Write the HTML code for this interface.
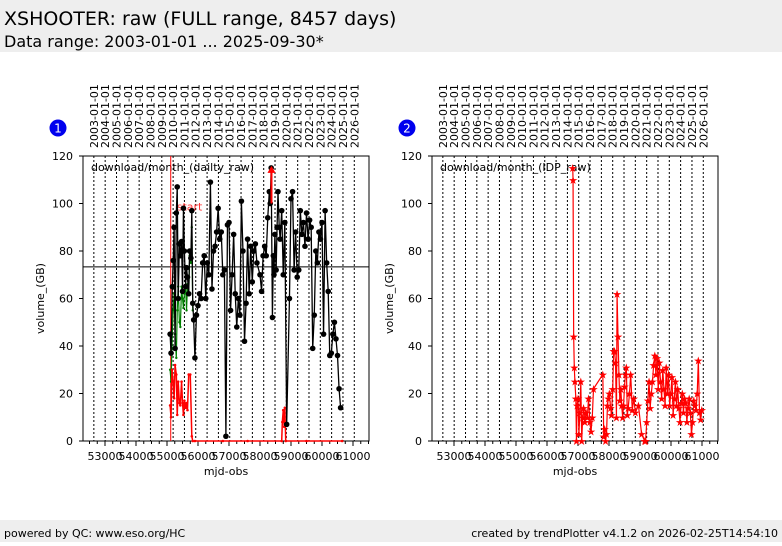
<!DOCTYPE html>
<html><head><meta charset="utf-8"><style>
body{margin:0;width:782px;height:542px;background:#fff;font-family:"DejaVu Sans","Liberation Sans",sans-serif;overflow:hidden}
</style></head><body>
<svg id="svg" width="782" height="542" xmlns="http://www.w3.org/2000/svg" font-family="DejaVu Sans, Liberation Sans, sans-serif">
<rect x="0" y="0" width="782" height="52" fill="#eeeeee"/>
<text x="4" y="25" font-size="19" fill="#000">XSHOOTER: raw (FULL range, 8457 days)</text>
<text x="4" y="47" font-size="16" fill="#000">Data range: 2003-01-01 ... 2025-09-30*</text>
<rect x="0" y="520" width="782" height="22" fill="#eeeeee"/>
<text x="4" y="537" font-size="11">powered by QC: www.eso.org/HC</text>
<text x="778" y="537" font-size="11" text-anchor="end">created by trendPlotter v4.1.2 on 2026-02-25T14:54:10</text>
<g id="p1"></g>
<g id="p2"></g>
</svg>
<script>
const yTicks=[0,20,40,60,80,100,120];
const xTicks=[53000,54000,55000,56000,57000,58000,59000,60000,61000];
const yearLabels=["2003","2004","2005","2006","2007","2008","2009","2010","2011","2012","2013","2014","2015","2016","2017","2018","2019","2020","2021","2022","2023","2024","2025","2026"];
const yearMjd=[52640,53005,53371,53736,54101,54466,54832,55197,55562,55927,56293,56658,57023,57388,57754,58119,58484,58849,59215,59580,59945,60310,60676,61041];
const refLineValue=73.3;
const startMjd=55120;
const blackMjd=[55100,55130,55170,55200,55230,55260,55300,55330,55360,55400,55430,55470,55500,55530,55560,55600,55630,55660,55700,55730,55770,55800,55830,55860,55900,55950,56000,56050,56100,56150,56200,56250,56300,56350,56400,56450,56500,56550,56600,56650,56700,56750,56800,56850,56900,56950,57000,57050,57100,57150,57200,57250,57300,57350,57400,57450,57500,57550,57600,57650,57700,57750,57800,57850,57900,58000,58050,58100,58150,58200,58250,58300,58330,58360,58400,58430,58450,58480,58520,58550,58580,58620,58650,58700,58750,58800,58860,58950,59000,59050,59100,59150,59200,59250,59300,59350,59400,59450,59500,59550,59600,59650,59700,59750,59800,59850,59900,59950,60000,60050,60100,60150,60200,60250,60300,60350,60400,60450,60500,60550,60600];
const blackVal=[45,37,65,76,90,39,96,107,60,83,78,84,63,98,80,65,73,69,62,80,77,97,58,51,35,53,57,62,60,75,78,60,75,70,109,64,80,82,88,98,85,88,70,72,2,91,92,55,70,87,62,48,60,53,101,80,42,58,85,62,82,67,80,83,75,70,63,78,82,78,94,105,100,115,52,78,70,87,72,90,105,90,85,97,70,92,7,60,102,105,72,88,69,72,97,87,92,82,96,85,93,90,39,53,80,75,88,85,92,45,97,75,63,36,37,45,50,43,36,22,14];
const greenMjd=[55100,55130,55170,55200,55230,55260,55300,55330,55360,55400,55430,55470,55500,55530,55560,55600,55630,55660,55700,55730,55770,55800,55830];
const greenVal=[30,25,45,55,62,45,35,55,65,50,48,65,60,56,62,65,55,66,62,78,75,90,55];
const redMjd=[55100,55130,55160,55200,55230,55260,55300,55330,55360,55400,55430,55470,55500,55530,55560,55600,55630,55660,55700,55750,55800,55830,55900,56800,57600,58700,58720,58750,58780,58800,58830,59500,60650];
const redVal=[15,10,30,25,18,32,28,11,25,16,15,25,16,11,17,14,16,13,28,28,2,0,0,0,0,0,8,13,6,14,0,0,0];
const arrowMjd=58370, arrowFrom=100, arrowTo=115;
const idpMjd=[56830,56840,56860,56880,56900,56930,56950,56970,57000,57030,57060,57090,57120,57150,57180,57220,57260,57300,57340,57380,57420,57460,57500,57800,57830,57860,57890,57920,57950,57980,58010,58050,58080,58120,58150,58180,58210,58240,58260,58290,58320,58350,58380,58410,58440,58470,58500,58530,58560,58590,58620,58660,58700,58750,58800,58850,58950,59050,59150,59180,59217,59254,59291,59328,59365,59402,59439,59476,59513,59550,59587,59624,59661,59698,59735,59772,59809,59846,59883,59920,59957,59994,60031,60068,60105,60142,60179,60216,60253,60290,60327,60364,60401,60438,60475,60512,60549,60586,60623,60660,60697,60734,60771,60808,60845,60882,60919,60956,60993];
const idpVal=[115,110,44,31,25,18,0,15,18,3,12,25,0,10,14,8,12,10,18,8,4,10,22,28,2,5,0,3,15,18,20,14,11,22,38,38,33,10,62,44,28,17,22,15,10,15,23,28,31,11,14,20,28,13,18,12,15,3,0,0,8,17,25,14,20,25,32,36,28,35,22,33,25,18,30,22,15,31,20,28,15,20,27,11,18,25,15,22,14,8,16,20,12,18,16,8,14,18,12,3,8,17,15,13,20,34,12,9,13];

const NS="http://www.w3.org/2000/svg";
function mk(parent,tag,attrs){const e=document.createElementNS(NS,tag);for(const k in attrs)e.setAttribute(k,attrs[k]);parent.appendChild(e);return e;}
const X0=52290,PXD=0.031,TOP=156,BOT=441,W=286;
function panel(g,left,badge,label){
  const xs=m=>left+(m-X0)*PXD, ys=v=>BOT-v*(BOT-TOP)/120;
  const c=mk(g,'circle',{cx:left-25,cy:128,r:8.5,fill:'#0000ee'});
  
  
  const bt=mk(g,'text',{x:left-25,y:132.5,'font-size':12,fill:'#fff','text-anchor':'middle'});bt.textContent=badge;
  
  
  yearMjd.forEach((m,i)=>{
    const x=xs(m);
    const l=mk(g,'line',{x1:x,y1:TOP,x2:x,y2:BOT,stroke:'#000','stroke-width':1,'stroke-dasharray':'2,2'});
    
    
    const t=mk(g,'text',{x:0,y:0,'font-size':11,transform:`translate(${x+4},148) rotate(-90)`});
    t.textContent=yearLabels[i]+'-01-01';
    
    
  });
  const fr=mk(g,'rect',{x:left,y:TOP,width:W,height:BOT-TOP,fill:'none',stroke:'#000','stroke-width':1});
  
  
  yTicks.forEach(v=>{
    const y=ys(v);
    mk(g,'line',{x1:left-4,y1:y,x2:left,y2:y,stroke:'#000'});
    const t=mk(g,'text',{x:left-10,y:y+4,'font-size':11,'text-anchor':'end'});t.textContent=v;
    
    
  });
  for(let m=52500;m<=61500;m+=250){const x=xs(m);if(x<left||x>left+W)continue;
    const maj=m%1000===0;mk(g,'line',{x1:x,y1:BOT,x2:x,y2:BOT+(maj?5:3),stroke:'#000'});}
  xTicks.forEach(m=>{const t=mk(g,'text',{x:xs(m),y:460,'font-size':11,'text-anchor':'middle'});t.textContent=m;
    
    });
  const xt=mk(g,'text',{x:left+W/2,y:475,'font-size':11,'text-anchor':'middle'});xt.textContent='mjd-obs';
  
  
  const yt=mk(g,'text',{x:0,y:0,'font-size':11,'text-anchor':'middle',transform:`translate(${left-39},${(TOP+BOT)/2}) rotate(-90)`});yt.textContent='volume_(GB)';
  
  
  const lt=mk(g,'text',{x:left+8,y:TOP+15,'font-size':11});lt.textContent=label;
  
  
  return {xs,ys};
}
function line(g,ms,vs,color,w,name){
  const p=mk(g,'polyline',{points:ms.map((m,i)=>g._xs(m)+','+g._ys(vs[i])).join(' '),fill:'none',stroke:color,'stroke-width':w});
  
  
  return p;
}
const g1=document.getElementById('p1'),g2=document.getElementById('p2');
const a1=panel(g1,83,'1','download/month_(dailty_raw)');g1._xs=a1.xs;g1._ys=a1.ys;
const a2=panel(g2,432,'2','download/month_(IDP_raw)');g2._xs=a2.xs;g2._ys=a2.ys;
const rl=mk(g1,'line',{x1:83,y1:a1.ys(refLineValue),x2:369,y2:a1.ys(refLineValue),stroke:'#000','stroke-width':1});


const sl=mk(g1,'line',{x1:a1.xs(startMjd),y1:TOP,x2:a1.xs(startMjd),y2:BOT,stroke:'#ff0000','stroke-width':1});


const st=mk(g1,'text',{x:a1.xs(startMjd)+6,y:a1.ys(97),'font-size':11,fill:'#ff3333'});st.textContent='start';


line(g1,greenMjd,greenVal,'#008000',1.2,'green-series-line');
greenMjd.forEach((m,i)=>{const d=mk(g1,'circle',{cx:a1.xs(m),cy:a1.ys(greenVal[i]),r:1.2,fill:'#008000'});
  
  });
line(g1,redMjd,redVal,'#ff0000',1.5,'red-series-line');
redMjd.forEach((m,i)=>{const d=mk(g1,'circle',{cx:a1.xs(m),cy:a1.ys(redVal[i]),r:1.3,fill:'#ff0000'});
  
  });
line(g1,blackMjd,blackVal,'#000',1.3,'black-series-line');
blackMjd.forEach((m,i)=>{const d=mk(g1,'circle',{cx:a1.xs(m),cy:a1.ys(blackVal[i]),r:2.8,fill:'#000'});
  
  });
const ar=mk(g1,'line',{x1:a1.xs(arrowMjd),y1:a1.ys(arrowFrom),x2:a1.xs(arrowMjd),y2:a1.ys(arrowTo)+4,stroke:'#ff0000','stroke-width':2});


const ah=mk(g1,'polygon',{points:`${a1.xs(arrowMjd)-4},${a1.ys(arrowTo)+5} ${a1.xs(arrowMjd)+4},${a1.ys(arrowTo)+5} ${a1.xs(arrowMjd)},${a1.ys(arrowTo)-2}`,fill:'#ff0000'});


line(g2,idpMjd,idpVal,'#ff0000',1.2,'idp-series-line');
idpMjd.forEach((m,i)=>{const t=mk(g2,'text',{x:a2.xs(m),y:a2.ys(idpVal[i])+4,'font-size':11,fill:'#ff0000','text-anchor':'middle'});t.textContent='★';
  
  });
</script>
</body></html>
